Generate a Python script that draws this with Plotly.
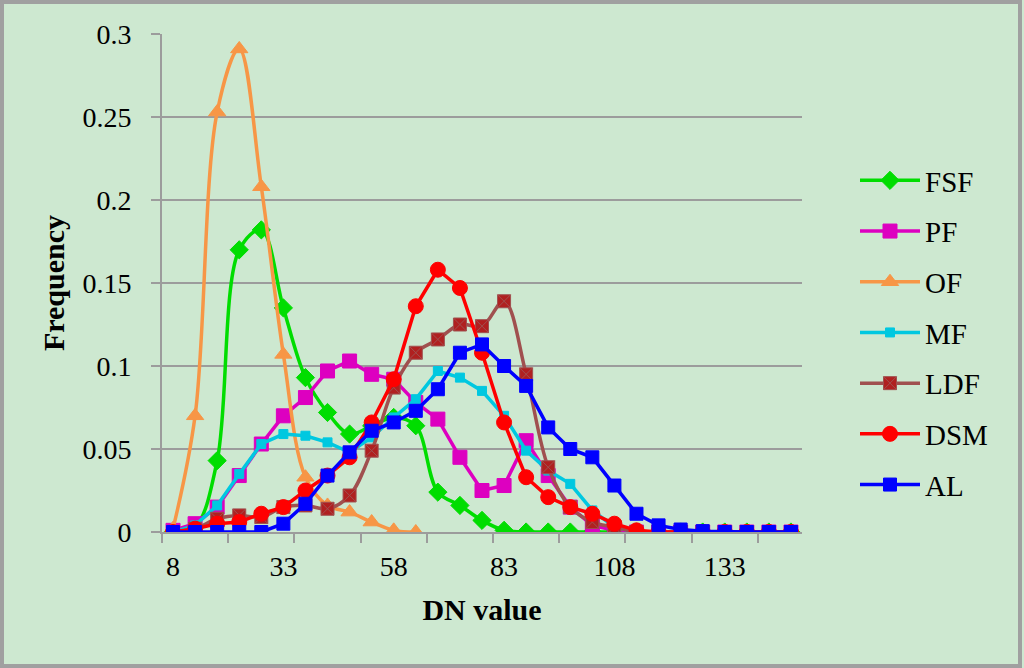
import plotly.graph_objects as go

# DN value categories (Excel style category axis, step 5)
dn = [8 + 5 * i for i in range(29)]

fsf = [0, 0.003, 0.043, 0.170, 0.182, 0.135, 0.093, 0.072, 0.059, 0.064,
       0.069, 0.064, 0.024, 0.016, 0.007, 0.001, 0, 0, 0, 0,
       0, 0, 0, 0, 0, 0, 0, 0, 0]
pf = [0.001, 0.005, 0.015, 0.034, 0.053, 0.070, 0.081, 0.097, 0.103, 0.095,
      0.092, 0.078, 0.068, 0.045, 0.025, 0.028, 0.055, 0.034, 0.015, 0.004,
      0.001, 0, 0, 0, 0, 0, 0, 0, 0]
of_ = [0.002, 0.070, 0.253, 0.291, 0.208, 0.107, 0.033, 0.016, 0.012, 0.006,
       0.001, 0.0]
mf = [0, 0.004, 0.016, 0.035, 0.053, 0.059, 0.058, 0.054, 0.048, 0.057,
      0.069, 0.080, 0.097, 0.093, 0.085, 0.070, 0.049, 0.037, 0.029, 0.013,
      0.003, 0, 0, 0, 0, 0, 0, 0, 0]
ldf = [0, 0.002, 0.008, 0.010, 0.009, 0.015, 0.016, 0.014, 0.022, 0.049,
       0.087, 0.108, 0.116, 0.125, 0.124, 0.139, 0.095, 0.039, 0.015, 0.006,
       0.003, 0, 0, 0, 0, 0, 0, 0, 0]
dsm = [0, 0.002, 0.005, 0.006, 0.011, 0.015, 0.025, 0.034, 0.045, 0.066,
       0.092, 0.136, 0.158, 0.147, 0.108, 0.066, 0.033, 0.021, 0.015, 0.011,
       0.005, 0.001, 0, 0, 0, 0, 0, 0, 0]
al = [0, 0, 0, 0, 0, 0.005, 0.017, 0.034, 0.048, 0.061,
      0.066, 0.073, 0.086, 0.108, 0.113, 0.100, 0.088, 0.063, 0.050, 0.045,
      0.028, 0.011, 0.004, 0.0015, 0.0005, 0, 0, 0, 0]

tick_labels = [8, 33, 58, 83, 108, 133]

series = [
    # name, values, line colour, marker colour, symbol, size, shape
    ("FSF", fsf, "#00DD00", "#00DD00", "diamond", 14, "spline"),
    ("PF", pf, "#DD00C0", "#DD00C0", "square", 14, "linear"),
    ("OF", of_, "#F79646", "#F79646", "triangle-up", 15, "spline"),
    ("MF", mf, "#00C8E0", "#00C8E0", "square", 9, "linear"),
    ("LDF", ldf, "#A0504F", "#B02020", "square-x", 13, "spline"),
    ("DSM", dsm, "#FF0000", "#FF0000", "circle", 15, "linear"),
    ("AL", al, "#0000FF", "#0000FF", "square", 13, "linear"),
]

serif = "Liberation Serif, Times New Roman, serif"
bg = "#CDE8D0"
grey = "#9C9C9C"

fig = go.Figure()
for name, vals, lc, mc, sym, size, shape in series:
    fig.add_trace(go.Scatter(
        x=dn[:len(vals)], y=vals, name=name, mode="lines+markers",
        legendgroup=name,
        line=dict(color=lc, width=3.5, shape=shape, smoothing=1),
        marker=dict(symbol=sym, size=size, color=mc,
                    line=dict(color=lc, width=1)),
    ))

# margins in px, so the frame can be placed in paper units
L, R, T, B = 162, 222, 34, 136
W, H = 1024, 668
pw, ph = W - L - R, H - T - B

fig.update_layout(
    width=W, height=H,
    margin=dict(l=L, r=R, t=T, b=B),
    paper_bgcolor=bg, plot_bgcolor=bg,
    font=dict(family=serif, size=28, color="black"),
    showlegend=True,
    hovermode=False,
    legend=dict(x=(855 - L) / pw, y=1 - (155 - T) / ph, xanchor="left", yanchor="top",
                font=dict(family=serif, size=29), bgcolor="rgba(0,0,0,0)",
                tracegroupgap=10, itemwidth=60),
    xaxis=dict(
        range=[5.5, 150.5], tickmode="array", tickvals=tick_labels,
        ticks="", showgrid=False, showline=True, linecolor=grey, linewidth=2,
        zeroline=False, ticklabelstandoff=8,
        minor=dict(tick0=5.5, dtick=15, ticks="outside", ticklen=9,
                   tickcolor=grey, tickwidth=2, showgrid=False),
        title=dict(text="<b>DN value</b>", font=dict(size=30), standoff=18),
    ),
    yaxis=dict(
        range=[0, 0.3], dtick=0.05, ticks="outside", ticklen=9, tickcolor=grey,
        tickwidth=2, showgrid=True, gridcolor=grey, gridwidth=2,
        showline=True, linecolor=grey, linewidth=2, zeroline=False,
        ticklabelstandoff=14,
        title=dict(text="<b>Frequency</b>", font=dict(size=30), standoff=9),
    ),
    shapes=[dict(
        type="rect", xref="paper", yref="paper",
        x0=(2 - L) / pw, x1=(1020 - L) / pw,
        y0=-(H - 2 - (T + ph)) / ph, y1=1 + (T - 2) / ph,
        line=dict(color="#A0A0A0", width=4), fillcolor="rgba(0,0,0,0)",
    )],
)

# the page body has a default 8px margin; drop it so the chart fills the window
fig.write_html("out.html", config={"displayModeBar": False},
               post_script="document.body.style.margin='0';")
